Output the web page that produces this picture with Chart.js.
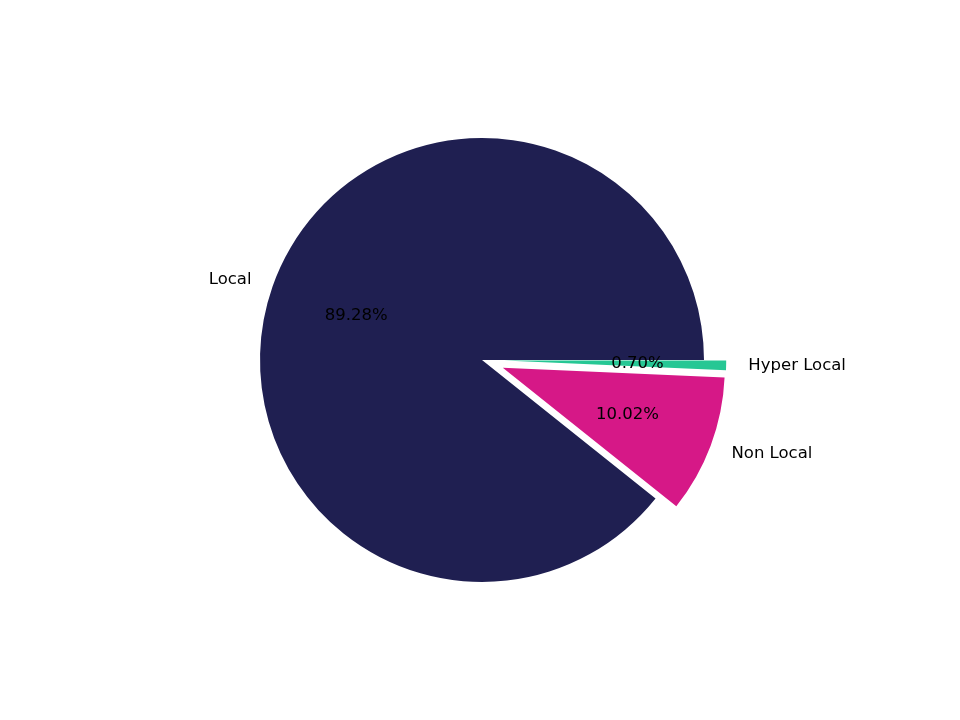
<!DOCTYPE html>
<html>
<head>
  <style>
    body { margin: 0; background: #ffffff; }
    canvas { display: block; }
  </style>
</head>
<body>
  <canvas id="pieChart" width="960" height="720"></canvas>

  <script src="https://cdn.jsdelivr.net/npm/chart.js"></script>
  <script>
    // slices listed clockwise from 3 o'clock
    const categories = ['Hyper Local', 'Non Local', 'Local'];
    const shares = [0.70, 10.02, 89.28];
    const sliceColors = ['#26c794', '#d61887', '#1f1f51'];
    const explode = [0.1, 0.1, 0];

    const pieRadius = 222;
    const labelFont = '16.5px "DejaVu Sans", sans-serif';

    // Chart.js "offset" also grows the radius, so push slices out ourselves
    const explodeSlices = {
      id: 'explodeSlices',
      beforeDatasetDraw(chart, args) {
        const ctx = chart.ctx;
        args.meta.data.forEach((arc, i) => {
          const mid = (arc.startAngle + arc.endAngle) / 2;
          const shift = explode[i] * arc.outerRadius;
          ctx.save();
          ctx.translate(Math.cos(mid) * shift, Math.sin(mid) * shift);
          arc.draw(ctx);
          ctx.restore();
        });
        return false;
      }
    };

    // matplotlib-style labels: name at 1.1r, percentage at 0.6r from the exploded centre
    const pieLabels = {
      id: 'pieLabels',
      afterDatasetsDraw(chart) {
        const ctx = chart.ctx;
        const meta = chart.getDatasetMeta(0);
        ctx.save();
        ctx.font = labelFont;
        ctx.fillStyle = '#000000';
        ctx.textBaseline = 'middle';
        meta.data.forEach((arc, i) => {
          const mid = (arc.startAngle + arc.endAngle) / 2;
          const dx = Math.cos(mid), dy = Math.sin(mid);
          const shift = explode[i] * arc.outerRadius;

          const lr = shift + 1.1 * arc.outerRadius;
          ctx.textAlign = dx > 0 ? 'left' : 'right';
          ctx.fillText(categories[i], arc.x + dx * lr, arc.y + dy * lr);

          const pr = shift + 0.6 * arc.outerRadius;
          ctx.textAlign = 'center';
          ctx.fillText(shares[i].toFixed(2) + '%', arc.x + dx * pr, arc.y + dy * pr);
        });
        ctx.restore();
      }
    };

    new Chart(document.getElementById('pieChart'), {
      type: 'pie',
      data: {
        labels: categories,
        datasets: [{
          data: shares,
          backgroundColor: sliceColors,
          borderWidth: 0,
          radius: pieRadius
        }]
      },
      options: {
        responsive: false,
        animation: false,
        rotation: 90,
        layout: { padding: { left: 4 } },
        plugins: {
          legend: { display: false },
          tooltip: { enabled: false }
        }
      },
      plugins: [explodeSlices, pieLabels]
    });
  </script>
</body>
</html>
